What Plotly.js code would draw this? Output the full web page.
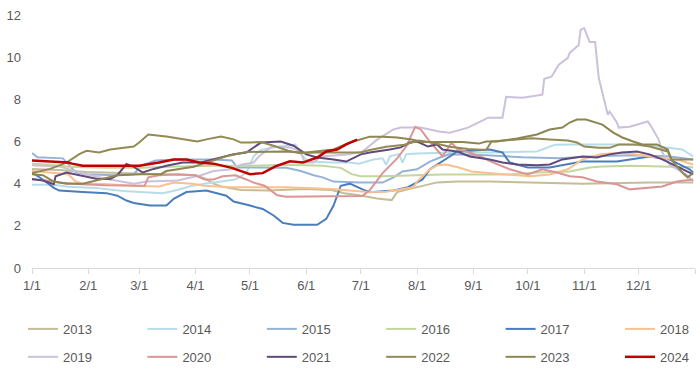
<!DOCTYPE html>
<html><head><meta charset="utf-8">
<script src="https://cdn.plot.ly/plotly-3.0.1.min.js"></script>
<style>html,body{margin:0;padding:0;background:#fff;}#chart{width:700px;height:376px;}</style>
</head><body><div id="chart"></div>
<script>
// Tick positions (day of year) and labels
const monthTicks = [0,31,59,90,120,151,181,212,243,273,304,334,365];
const monthLabels = ['1/1','2/1','3/1','4/1','5/1','6/1','7/1','8/1','9/1','10/1','11/1','12/1',''];
const yTicks = [0,2,4,6,8,10,12];

const years = ['2013','2014','2015','2016','2017','2018','2019','2020','2021','2022','2023','2024'];

// Series: day of year (x) and value (y)
const d2013 = [0,15,30,50,70,90,95,100,105,115,130,150,165,172,180,190,198,201,207,212,223,234,252,274,303,340,364];
const v2013 = [4.7,4.65,4.55,4.5,4.45,4.4,4.25,4.0,3.85,3.7,3.68,3.75,3.7,3.55,3.45,3.3,3.22,3.6,3.73,3.83,4.06,4.1,4.1,4.06,4.0,4.06,4.06];

const d2014 = [0,12,20,35,50,62,72,80,88,95,105,112,118,122,126,135,145,148,152,165,175,180,188,193,195,197,202,204,206,212,230,252,278,288,300,322,340,358,364];
const v2014 = [3.95,3.95,3.85,3.8,3.65,3.6,3.55,3.7,3.9,4.0,4.1,4.2,4.5,5.3,5.6,5.75,5.85,5.4,5.05,5.0,5.0,4.95,5.15,5.2,4.9,5.3,5.4,5.0,5.4,5.43,5.48,5.48,5.53,5.85,5.86,5.86,5.81,5.62,5.29];

const d2015 = [0,3,17,20,24,30,45,56,60,68,80,100,110,113,140,148,155,160,166,180,193,199,204,212,219,226,230,250,270,290,310,330,350,364];
const v2015 = [5.45,5.25,5.2,4.9,4.55,4.45,4.4,4.45,4.85,5.1,5.15,5.15,5.1,4.77,4.75,4.6,4.4,4.3,4.1,4.05,4.05,4.3,4.58,4.68,5.05,5.29,5.39,5.35,5.25,5.2,5.3,5.35,5.3,5.15];

const d2016 = [0,10,20,40,60,80,100,120,140,160,170,176,181,193,226,263,278,296,307,314,330,345,364];
const v2016 = [4.95,4.9,4.8,4.75,4.75,4.82,4.85,4.85,4.9,4.85,4.75,4.45,4.35,4.35,4.44,4.44,4.53,4.58,4.77,4.82,4.85,4.82,4.78];

const d2017 = [0,6,12,15,28,41,47,52,56,65,74,78,85,96,107,111,120,127,133,138,144,157,162,166,170,175,182,186,199,207,215,219,230,234,252,259,263,273,285,295,303,322,340,351,362,364];
const v2017 = [4.53,4.2,3.8,3.67,3.6,3.55,3.43,3.2,3.08,2.96,2.96,3.28,3.6,3.67,3.43,3.15,2.96,2.8,2.49,2.14,2.05,2.05,2.33,2.96,3.9,4.0,3.73,3.59,3.68,3.83,4.2,4.68,5.29,5.53,5.62,5.48,5.0,4.77,4.77,4.91,5.05,5.05,5.29,5.15,4.68,4.53];

const d2018 = [0,12,20,24,28,40,55,70,78,88,95,110,140,165,175,185,195,200,210,212,219,223,228,235,242,248,262,274,285,295,303,313,325,340,355,364];
const v2018 = [4.6,4.5,4.45,4.1,4.0,3.98,3.9,3.87,4.05,4.0,3.9,3.83,3.83,3.75,3.67,3.6,3.62,3.7,3.83,4.1,4.68,4.87,4.91,4.77,4.58,4.53,4.44,4.35,4.44,4.68,5.15,5.39,5.48,5.29,5.15,4.91];

const d2019 = [0,15,30,43,56,63,80,93,100,110,115,122,125,128,132,142,148,150,155,159,175,182,190,199,203,214,224,230,240,249,251,259,261,270,281,282,286,290,295,296,301,302,304,307,310,312,314,317,318,322,323,329,339,341,345,347,351,360,364];
const v2019 = [4.87,4.82,4.44,4.2,4.0,4.1,4.15,4.4,4.6,4.68,4.9,5.0,5.3,5.5,5.76,5.72,5.53,5.0,5.0,5.29,5.39,5.53,6.09,6.57,6.66,6.66,6.47,6.42,6.66,7.04,7.13,7.13,8.12,8.08,8.22,8.97,9.07,9.64,9.97,10.2,10.58,11.29,11.38,10.72,10.72,9.02,8.36,7.27,7.42,6.9,6.66,6.7,6.95,6.7,6.09,5.48,4.9,4.44,4.1];

const d2020 = [0,8,15,25,40,55,62,64,70,80,90,95,100,105,112,118,122,128,135,140,150,165,182,186,193,201,206,211,214,219,226,231,234,241,248,254,263,273,281,289,296,303,311,322,329,336,347,355,364];
const v2020 = [4.2,4.15,4.05,3.98,3.92,3.9,3.9,4.3,4.4,4.45,4.4,4.2,4.2,4.35,4.4,4.2,4.05,3.9,3.45,3.38,3.4,3.4,3.42,3.7,4.5,5.2,5.76,6.7,6.57,6.0,5.3,5.95,5.65,5.48,5.24,5.0,4.68,4.44,4.68,4.53,4.35,4.3,4.1,3.97,3.73,3.78,3.87,4.1,4.2];

const d2021 = [0,6,12,13,19,27,36,43,47,52,56,61,67,74,83,93,100,111,118,126,137,144,151,157,166,173,181,186,197,203,208,212,218,223,226,234,241,252,259,267,278,285,292,303,311,318,325,333,340,347,355,361,364];
const v2021 = [4.22,4.15,3.98,4.35,4.53,4.4,4.22,4.22,4.4,4.93,4.8,4.53,4.7,4.85,5.0,5.0,5.16,5.4,5.48,5.95,6.0,5.8,5.39,5.24,5.15,5.05,5.39,5.48,5.62,5.72,5.95,6.0,5.76,5.86,5.62,5.53,5.29,5.15,5.0,4.91,4.87,4.91,5.15,5.29,5.24,5.39,5.48,5.53,5.39,5.15,4.82,4.58,4.44];

const d2022 = [0,10,19,26,30,37,43,50,56,59,64,74,91,96,104,111,115,120,126,133,141,147,157,171,181,186,195,205,213,220,230,240,250,253,262,275,285,295,300,304,312,318,323,333,340,347,350,352,364];
const v2022 = [4.5,4.7,5.0,5.4,5.56,5.48,5.62,5.7,5.76,5.95,6.33,6.24,6.0,6.1,6.24,6.1,5.95,5.95,5.98,5.8,5.56,5.45,5.48,5.48,5.48,5.6,5.75,5.85,6.05,5.95,5.75,5.65,5.6,6.0,6.05,6.15,6.1,6.05,5.95,5.76,5.7,5.7,5.86,5.86,5.76,5.62,5.53,5.15,5.15];

const d2023 = [0,6,12,19,28,38,47,60,71,74,89,96,107,118,126,138,151,166,175,186,193,201,209,215,237,246,250,256,267,278,285,292,296,300,305,311,314,320,325,331,336,344,350,352,355,359,361,363,364];
const v2023 = [4.45,4.4,4.1,4.0,4.0,4.2,4.4,4.45,4.45,4.6,4.8,5.0,5.3,5.5,5.5,5.53,5.48,5.62,5.95,6.23,6.23,6.19,6.09,5.98,5.98,5.9,6.0,6.0,6.14,6.33,6.57,6.66,6.9,7.04,7.04,6.9,6.8,6.42,6.19,6.0,5.86,5.86,5.62,5.15,4.82,4.44,4.3,4.44,4.5];

const d2024 = [0,10,20,22,28,59,63,70,78,85,92,100,110,120,127,134,142,149,157,162,168,173,179];
const v2024 = [5.1,5.05,5.0,4.95,4.85,4.85,4.9,5.0,5.15,5.15,5.0,4.95,4.75,4.45,4.5,4.82,5.06,5.0,5.24,5.53,5.62,5.86,6.09];

const xs = [d2013,d2014,d2015,d2016,d2017,d2018,d2019,d2020,d2021,d2022,d2023,d2024];
const ys = [v2013,v2014,v2015,v2016,v2017,v2018,v2019,v2020,v2021,v2022,v2023,v2024];

const colors = ['#c4bd97','#b7dee8','#95b3d7','#c3d69b','#4a7ebb','#fac090','#ccc1da','#da9694','#604a7b','#948a54','#8e8652','#c00000'];

const traces = years.map(function(yr, i){
  const t = {
    x: xs[i], y: ys[i], name: yr, type: 'scatter', mode: 'lines',
    line: {color: colors[i], width: i === 11 ? 2.5 : 2},
    legend: i < 6 ? 'legend' : 'legend2',
    hoverinfo: 'skip'
  };
  if (i === 5 || i === 11) t.legendwidth = 30;
  return t;
});

const legendFont = {family: 'Liberation Sans, Arial, sans-serif', size: 13, color: '#595959'};

const layout = {
  width: 700, height: 376,
  margin: {l: 32, r: 5, t: 15, b: 107},
  paper_bgcolor: '#ffffff', plot_bgcolor: '#ffffff',
  showlegend: true,
  font: {family: 'Liberation Sans, Arial, sans-serif', size: 13, color: '#595959'},
  xaxis: {
    range: [0, 365], tickmode: 'array', tickvals: monthTicks, ticktext: monthLabels,
    showgrid: false, zeroline: false, showline: true, linecolor: '#d9d9d9', linewidth: 1,
    ticks: 'outside', ticklen: 5, tickcolor: '#d9d9d9', tickwidth: 1,
    tickfont: {size: 13, color: '#595959'}, fixedrange: true
  },
  yaxis: {
    range: [0, 12], tickmode: 'array', tickvals: yTicks,
    showgrid: false, zeroline: false, showline: false, ticks: '',
    ticklabelstandoff: 10,
    tickfont: {size: 13, color: '#595959'}, fixedrange: true
  },
  legend: {
    orientation: 'h', x: -0.0136, xanchor: 'left', y: -0.236, yanchor: 'middle',
    entrywidth: 74.4, entrywidthmode: 'pixels', font: legendFont,
    bgcolor: 'rgba(0,0,0,0)', traceorder: 'normal'
  },
  legend2: {
    orientation: 'h', x: -0.0136, xanchor: 'left', y: -0.346, yanchor: 'middle',
    entrywidth: 74.4, entrywidthmode: 'pixels', font: legendFont,
    bgcolor: 'rgba(0,0,0,0)', traceorder: 'normal'
  }
};

Plotly.newPlot('chart', traces, layout, {displayModeBar: false, staticPlot: true});
</script>
</body></html>
